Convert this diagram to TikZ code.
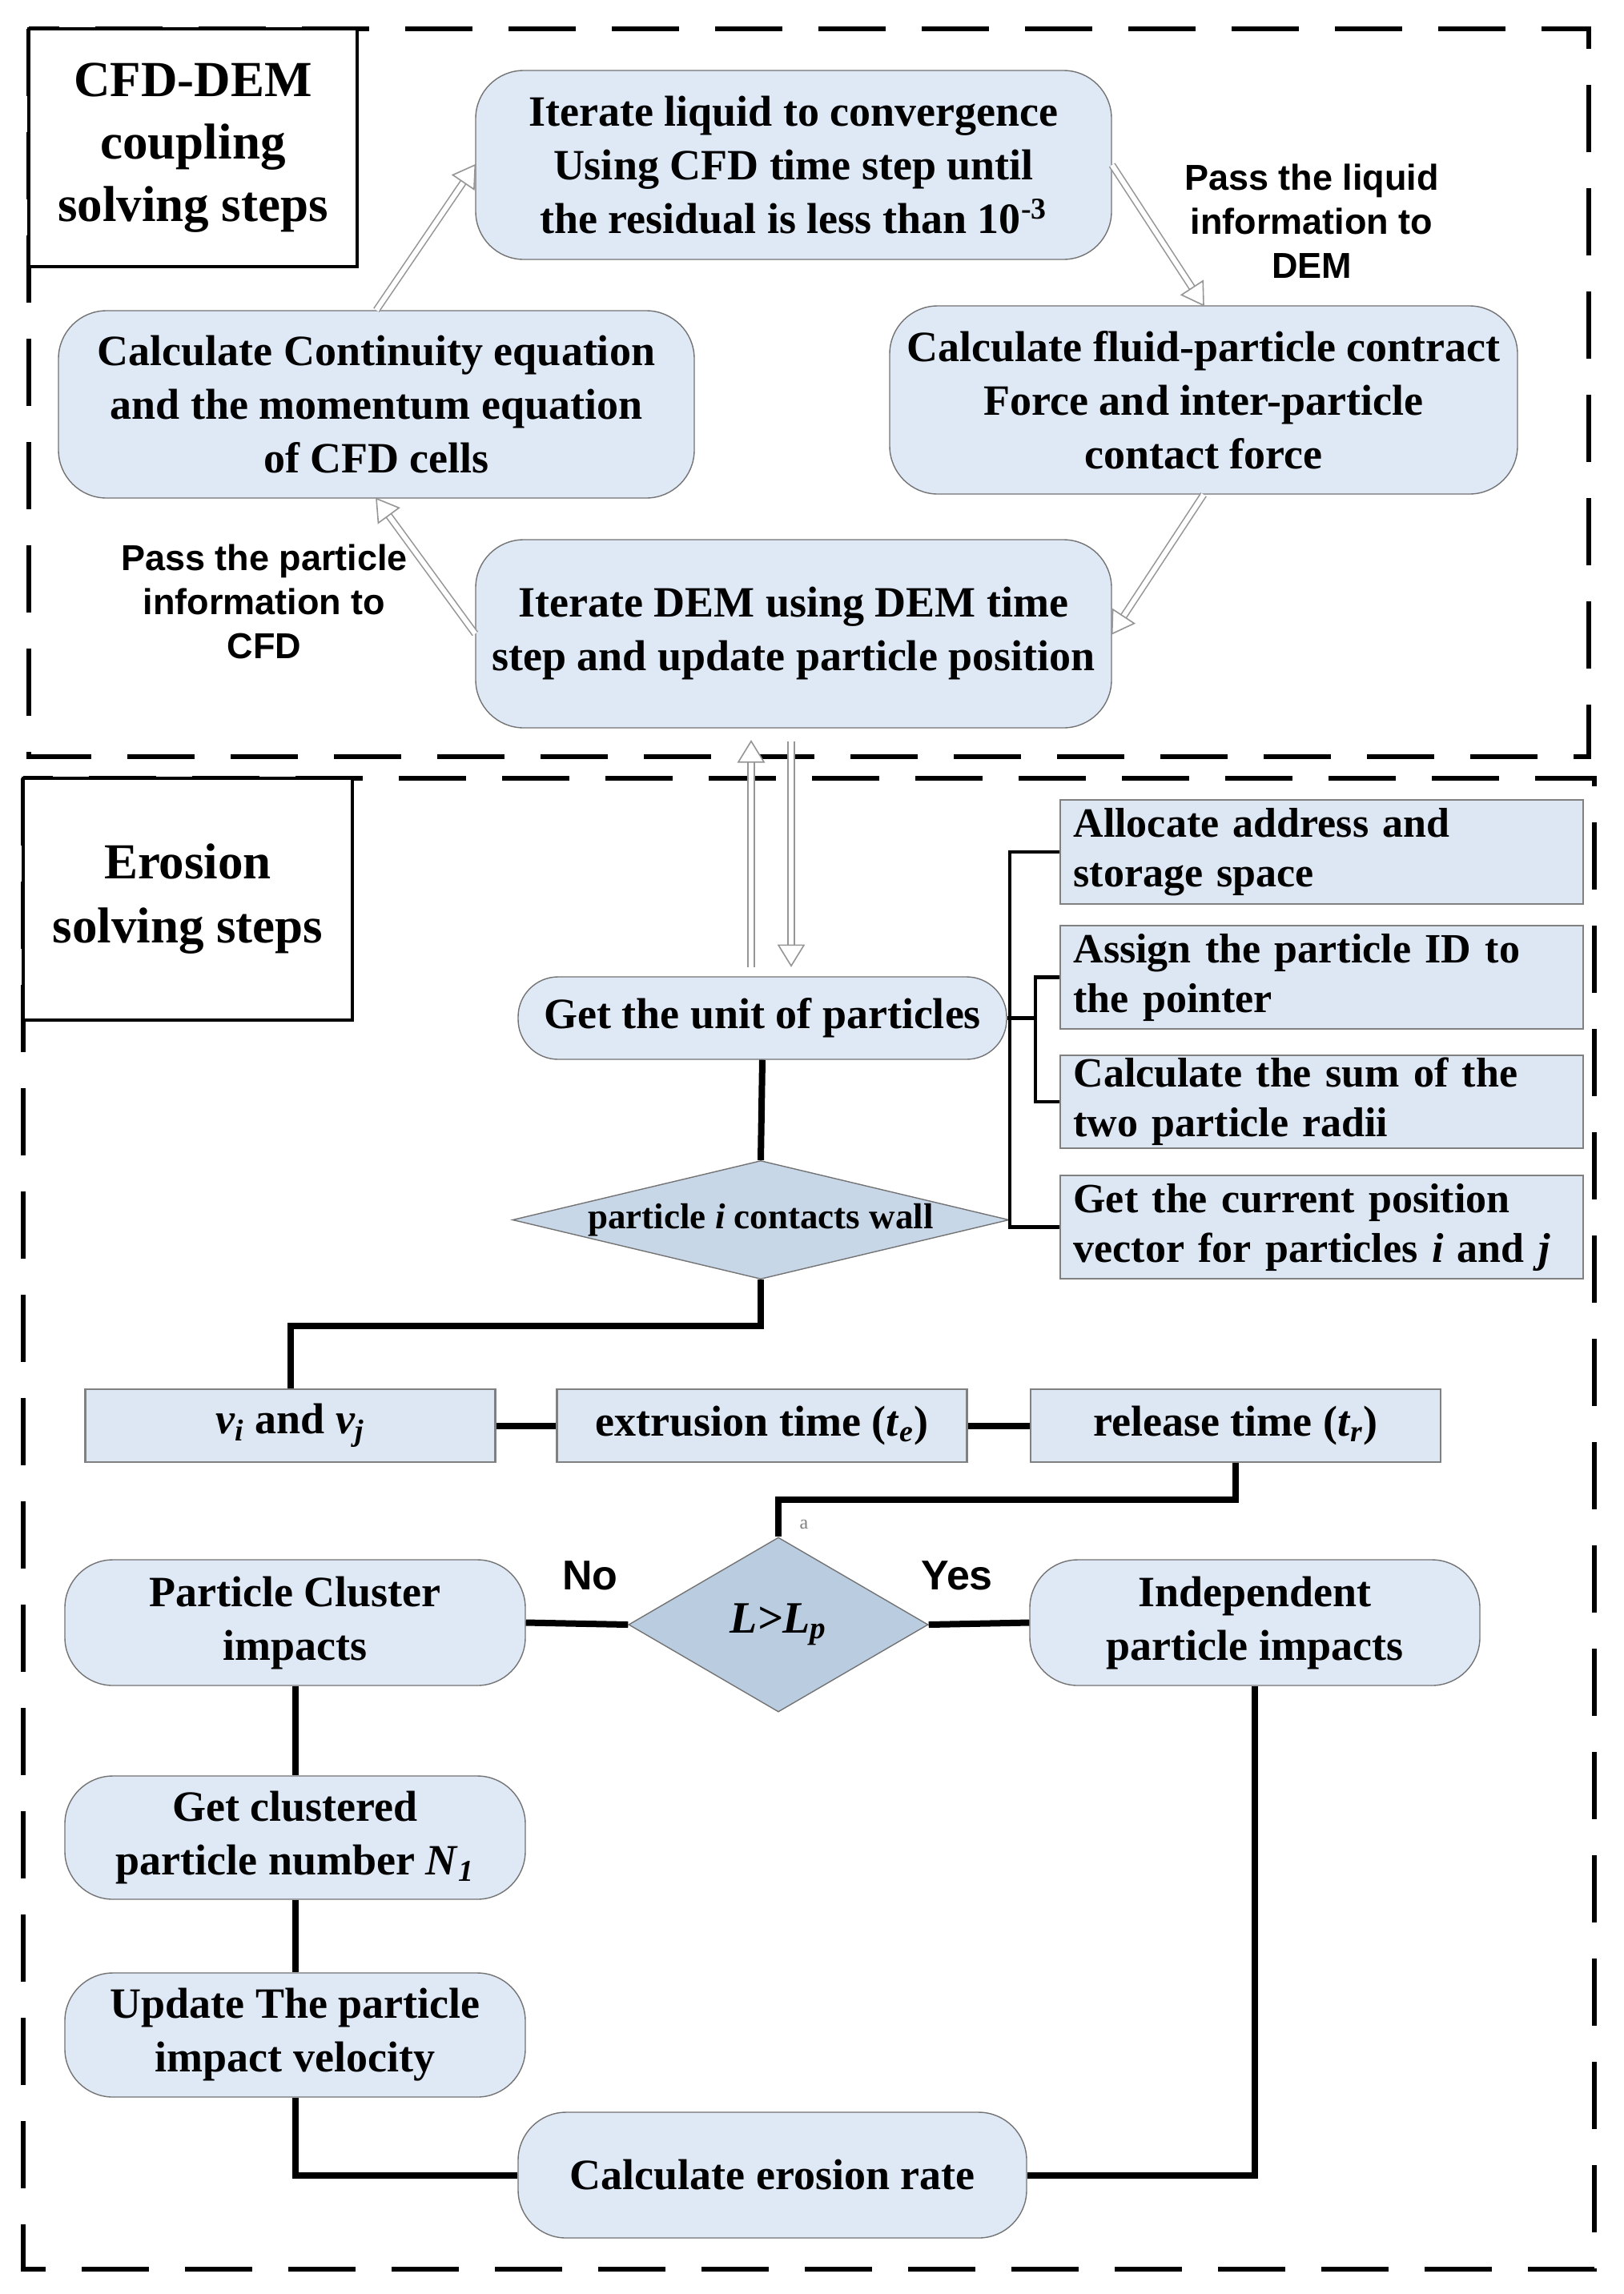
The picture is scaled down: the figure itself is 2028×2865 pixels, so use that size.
\documentclass[tikz,border=0pt]{standalone}
\usepackage{fontspec}
\setmainfont{Liberation Serif}
\newfontfamily\lsans{Liberation Sans}
\usetikzlibrary{shapes.geometric,calc}
\definecolor{boxfill}{RGB}{223,233,246}
\definecolor{rectfill}{RGB}{221,231,243}
\definecolor{dfillA}{RGB}{200,215,232}
\definecolor{dfillB}{RGB}{186,204,224}
\definecolor{boxline}{RGB}{115,115,115}
\definecolor{hollow}{RGB}{150,150,150}
\tikzset{
 every node/.style={font=\bfseries},
 frame/.style={line width=3pt, dash pattern=on 42pt off 22.5pt},
 titlebox/.style={draw, line width=2pt, fill=white, align=center, inner sep=0pt},
 rbox/.style={draw=boxline, line width=0.7pt, fill=boxfill, rounded corners=30pt, align=center, inner sep=0pt,
   font=\bfseries\fontsize{27pt}{33.5pt}\selectfont},
 sbox/.style={draw=gray, line width=1.2pt, fill=rectfill, align=left, inner xsep=8pt, inner ysep=0pt,
   text width=310pt, minimum width=326.5pt, font=\bfseries\fontsize{26pt}{31pt}\selectfont},
 tbox/.style={draw=gray, line width=1.2pt, fill=rectfill, align=center, inner sep=0pt,
   minimum width=256pt, minimum height=45.5pt, font=\bfseries\fontsize{27pt}{33pt}\selectfont},
 dia/.style={shape=diamond, draw=boxline, line width=0.7pt, inner sep=0pt},
 flow/.style={line width=4pt},
 bline/.style={line width=2.2pt},
 lab/.style={font=\lsans\bfseries\fontsize{22.5pt}{27.5pt}\selectfont, align=center},
 yn/.style={font=\lsans\bfseries\fontsize{26pt}{30pt}\selectfont},
}
\newcommand\harrow[2]{%
  \path ($(#2)!13pt!(#1)$) coordinate (hb);
  \draw[draw=hollow, double=white, double distance=3pt, line width=0.8pt] (#1) -- (hb);
  \draw[draw=hollow, fill=white, line width=0.8pt, line join=miter]
    (#2) -- ($(hb)!8pt!90:(#2)$) -- ($(hb)!8pt!-90:(#2)$) -- cycle;
}
\begin{document}
\begin{tikzpicture}[x=0.5pt, y=-0.5pt]
\useasboundingbox[fill=white] (0,0) rectangle (2028,2865);

% frames
\draw[frame] (36,36) rectangle (1984,945);
\draw[frame] (29,972) rectangle (1991,2834);

% titles
\node[titlebox, minimum width=205pt, minimum height=148.5pt,
  font=\bfseries\fontsize{31.5pt}{39pt}\selectfont] (t1) at (241,184.5)
  {CFD-DEM\\coupling\\solving steps};
\node[titlebox, minimum width=205.5pt, minimum height=151pt,
  font=\bfseries\fontsize{31.5pt}{40pt}\selectfont] (t2) at (234.5,1123)
  {Erosion\\solving steps};

% upper cycle
\node[rbox, minimum width=397pt, minimum height=118pt] (iter) at (991,206)
  {Iterate liquid to convergence\\Using CFD time step until\\the residual is less than 10\textsuperscript{-3}};
\node[rbox, minimum width=397pt, minimum height=117pt] (cont) at (470,505)
  {Calculate Continuity equation\\and the momentum equation\\of CFD cells};
\node[rbox, minimum width=392pt, minimum height=117.5pt] (fluid) at (1503,499.5)
  {Calculate fluid-particle contract\\Force and inter-particle\\contact force};
\node[rbox, minimum width=397pt, minimum height=117.5pt] (dem) at (991,791.5)
  {Iterate DEM using DEM time\\step and update particle position};

\node[lab] (lab1) at (1638,276) {Pass the liquid\\information to\\DEM};
\node[lab] (lab2) at (330,751) {Pass the particle\\information to\\CFD};

\harrow{cont.north}{iter.west}
\harrow{iter.east}{fluid.north}
\harrow{fluid.south}{dem.east}
\harrow{dem.west}{cont.south}

% erosion part
\node[rbox, rounded corners=25pt, minimum width=305pt, minimum height=51.5pt] (get) at (952,1271.5)
  {Get the unit of particles};

\coordinate (upS) at ($(get.north)+(-14,-11)$);
\coordinate (upE) at ($(dem.south)+(-53,16)$);
\coordinate (dnS) at ($(dem.south)+(-3,16)$);
\coordinate (dnE) at ($(get.north)+(36,-13)$);
\harrow{upS}{upE}
\harrow{dnS}{dnE}

\node[dia, fill=dfillA, aspect=4.19, minimum width=310pt, minimum height=74pt,
  font=\bfseries\fontsize{22.5pt}{26pt}\selectfont] (d1) at (950,1523.5)
  {particle \textit{i} contacts wall};

\node[sbox, minimum height=65pt] (r1) at (1650.5,1064) {Allocate address and\\storage space};
\node[sbox, minimum height=64.5pt] (r2) at (1650.5,1220.5) {Assign the particle ID to\\the pointer};
\node[sbox, minimum height=58pt] (r3) at (1650.5,1376) {Calculate the sum of the\\two particle radii};
\node[sbox, minimum height=64.5pt] (r4) at (1650.5,1532.5) {Get the current position\\vector for particles \textit{i} and \textit{j}};

\coordinate (ix) at ($(get.east)+(35,0)$);
\draw[bline] (r1.west) -- (r1.west -| d1.east) -- (r4.west -| d1.east) -- (r4.west);
\draw[bline] (r2.west) -- (r2.west -| ix) -- (r3.west -| ix) -- (r3.west);
\draw[bline] (get.east) -- (ix);

\node[tbox] (vbox) at (362.5,1780.5) {\textit{v}\textsubscript{\textit{i}} and \textit{v}\textsubscript{\textit{j}}};
\node[tbox] (ext) at (951.5,1780.5) {extrusion time (\textit{t}\textsubscript{\textit{e}})};
\node[tbox] (rel) at (1543,1780.5) {release time (\textit{t}\textsubscript{\textit{r}})};

\node[dia, fill=dfillB, aspect=1.716, minimum width=187pt, minimum height=109pt,
  font=\bfseries\itshape\fontsize{28pt}{32pt}\selectfont] (d2) at (972,2029)
  {L>L\textsubscript{p}};
\node[font=\fontsize{12pt}{14pt}\selectfont, text=gray] (alab) at (1004,1904) {a};
\node[yn] (no) at (737,1968) {No};
\node[yn] (yes) at (1195,1968) {Yes};

\node[rbox, minimum width=287.5pt, minimum height=78.5pt] (clus) at (368.5,2026.5)
  {Particle Cluster\\impacts};
\node[rbox, minimum width=281pt, minimum height=78.5pt] (indep) at (1567,2026.5)
  {Independent\\particle impacts};
\node[rbox, minimum width=287.5pt, minimum height=77pt] (getc) at (368.5,2295)
  {Get clustered\\particle number \textit{N}\textsubscript{\textit{1}}};
\node[rbox, minimum width=287.5pt, minimum height=77.5pt] (upd) at (368.5,2541.5)
  {Update The particle\\impact velocity};
\node[rbox, minimum width=317.5pt, minimum height=78.5pt] (eros) at (964.5,2716.5)
  {Calculate erosion rate};

% flow lines
\draw[flow] (get.south) -- (d1.north);
\draw[flow] (d1.south) -- ++(0,58) -| (vbox.north);
\draw[flow] (vbox.east) -- (ext.west);
\draw[flow] (ext.east) -- (rel.west);
\draw[flow] (rel.south) -- ++(0,46) -| (d2.north);
\draw[flow] (d2.west) -- (clus.east);
\draw[flow] (d2.east) -- (indep.west);
\draw[flow] (clus.south) -- (getc.north);
\draw[flow] (getc.south) -- (upd.north);
\draw[flow] (upd.south) |- (eros.west);
\draw[flow] (indep.south) |- (eros.east);
\end{tikzpicture}
\end{document}
